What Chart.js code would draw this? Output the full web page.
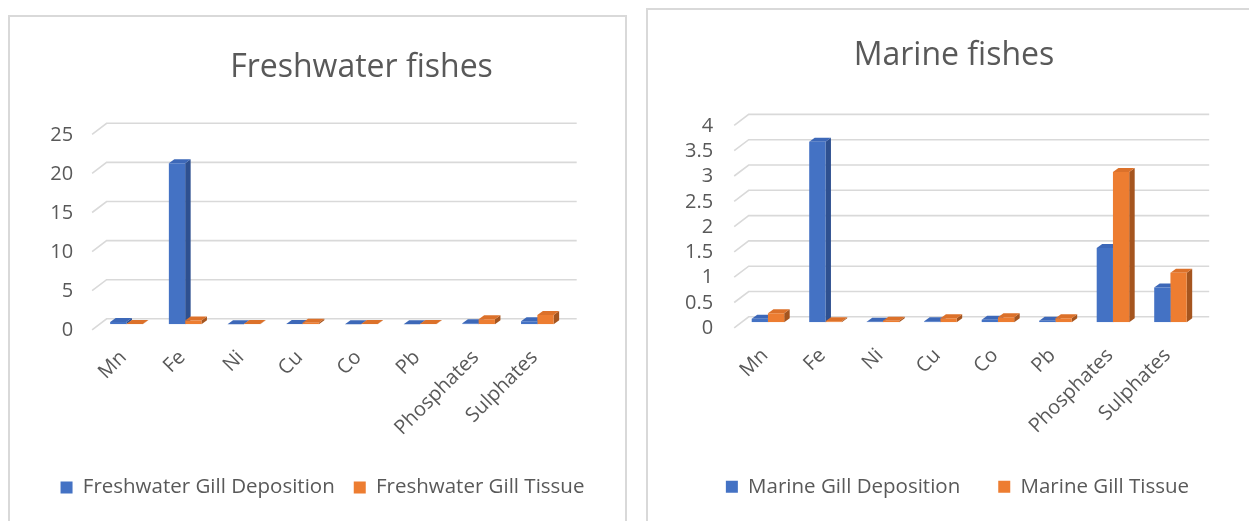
<!DOCTYPE html>
<html>
<head>
<meta charset="utf-8">
<script src="https://cdn.jsdelivr.net/npm/chart.js@4.4.1/dist/chart.umd.min.js"></script>
<style>
  html, body { margin: 0; padding: 0; background: #fff; width: 1249px; height: 521px; overflow: hidden; position: relative; }
  .frame { position: absolute; border: 2px solid #d9d9d9; box-sizing: border-box; pointer-events: none; }
  canvas { position: absolute; }
</style>
</head>
<body>
<canvas id="fresh" width="617" height="520" style="left:9px;top:16px"></canvas>
<div class="frame" style="left:8px;top:15px;width:619px;height:540px"></div>
<canvas id="marine" width="617" height="530" style="left:647px;top:9px"></canvas>
<div class="frame" style="left:646px;top:8px;width:619px;height:540px"></div>
<script>
// Parameters measured per sample
const CATEGORIES = ['Mn', 'Fe', 'Ni', 'Cu', 'Co', 'Pb', 'Phosphates', 'Sulphates'];

const FRESH_DEPOSITION = [0.3, 20.6, 0.02, 0.05, 0.02, 0.02, 0.15, 0.4];
const FRESH_TISSUE     = [0.05, 0.5, 0.03, 0.2, 0.03, 0.03, 0.65, 1.2];
const FRESH_Y_TICKS    = [0, 5, 10, 15, 20, 25];

const MARINE_DEPOSITION = [0.07, 3.57, 0.01, 0.02, 0.05, 0.03, 1.47, 0.69];
const MARINE_TISSUE     = [0.18, 0.02, 0.03, 0.08, 0.1, 0.08, 2.97, 0.98];
const MARINE_Y_TICKS    = [0, 0.5, 1, 1.5, 2, 2.5, 3, 3.5, 4];

const FONT = "'Open Sans', 'Noto Sans', sans-serif";
const TEXT = '#595959';
Chart.defaults.font.family = FONT;
Chart.defaults.color = TEXT;

// front / top / side shades for the extruded columns
const FACES = [
  { front: '#4472C4', top: '#3D68B8', side: '#2E5090' },
  { front: '#ED7D31', top: '#DC712A', side: '#A5551F' }
];

// oblique depth of the columns and of the back wall
const DEPTH = { dx: 5.5, dy: -4 };
const WALL = { lift: -5.5, back: 9.5, front: -5, drop: 11, right: 10 };

// back-wall gridlines with the short floor diagonal at their left end
const wallGrid = {
  id: 'wallGrid',
  beforeDatasetsDraw(chart) {
    const { ctx, chartArea: a } = chart;
    const ys = chart.scales.y;
    ctx.save();
    ctx.strokeStyle = '#d9d9d9';
    ctx.lineWidth = 1.6;
    ys.ticks.forEach(t => {
      const wy = ys.getPixelForValue(t.value) + WALL.lift;
      ctx.beginPath();
      ctx.moveTo(a.left + WALL.front, wy + WALL.drop);
      ctx.lineTo(a.left + WALL.back, wy);
      ctx.lineTo(a.right + WALL.right, wy);
      ctx.stroke();
    });
    ctx.restore();
  }
};

// top and side faces of every column (the front face is the bar itself)
const columns3d = {
  id: 'columns3d',
  beforeDatasetsDraw(chart) {
    const { ctx } = chart;
    const metas = chart.data.datasets.map((d, i) => chart.getDatasetMeta(i));
    ctx.save();
    for (let i = 0; i < chart.data.labels.length; i++) {
      metas.forEach((meta, di) => {
        const bar = meta.data[i];
        if (!bar) return;
        const { x, y, base, width } = bar.getProps(['x', 'y', 'base', 'width'], true);
        const l = x - width / 2, r = x + width / 2;
        const c = FACES[di];
        // side
        ctx.fillStyle = c.side;
        ctx.beginPath();
        ctx.moveTo(r, y);
        ctx.lineTo(r + DEPTH.dx, y + DEPTH.dy);
        ctx.lineTo(r + DEPTH.dx, base + DEPTH.dy);
        ctx.lineTo(r, base);
        ctx.closePath();
        ctx.fill();
        // top
        ctx.fillStyle = c.top;
        ctx.beginPath();
        ctx.moveTo(l, y);
        ctx.lineTo(l + DEPTH.dx, y + DEPTH.dy);
        ctx.lineTo(r + DEPTH.dx, y + DEPTH.dy);
        ctx.lineTo(r, y);
        ctx.closePath();
        ctx.fill();
      });
    }
    ctx.restore();
  }
};

// category names, turned 45 degrees under the floor
const slantLabels = {
  id: 'slantLabels',
  afterDraw(chart, args, opts) {
    const { ctx, chartArea: a } = chart;
    const xs = chart.scales.x;
    ctx.save();
    ctx.fillStyle = TEXT;
    ctx.font = `${opts.size}px ${FONT}`;
    ctx.textAlign = 'right';
    ctx.textBaseline = 'middle';
    chart.data.labels.forEach((lab, i) => {
      ctx.save();
      ctx.translate(xs.getPixelForValue(i) + opts.dx, a.bottom + opts.dy);
      ctx.rotate(-Math.PI / 4);
      ctx.fillText(lab, 0, 0);
      ctx.restore();
    });
    ctx.restore();
  }
};

// chart heading
const heading = {
  id: 'heading',
  afterDraw(chart, args, opts) {
    const { ctx } = chart;
    ctx.save();
    ctx.fillStyle = TEXT;
    ctx.font = `${opts.size}px ${FONT}`;
    ctx.textAlign = 'center';
    ctx.textBaseline = 'alphabetic';
    ctx.fillText(opts.text, opts.x, opts.y);
    ctx.restore();
  }
};

function makeChart(id, cfg) {
  return new Chart(document.getElementById(id), {
    type: 'bar',
    data: {
      labels: CATEGORIES,
      datasets: cfg.series.map((s, i) => ({
        label: s.label,
        data: s.data,
        backgroundColor: FACES[i].front,
        borderWidth: 0,
        categoryPercentage: cfg.catPct,
        barPercentage: 1
      }))
    },
    options: {
      responsive: false,
      animation: false,
      events: [],
      layout: { padding: cfg.padding },
      scales: {
        x: {
          grid: { display: false, drawTicks: false },
          border: { display: false },
          ticks: { display: false },
          afterFit: s => { s.height = cfg.xHeight; }
        },
        y: {
          min: 0,
          max: cfg.yTicks[cfg.yTicks.length - 1],
          afterBuildTicks: s => { s.ticks = cfg.yTicks.map(v => ({ value: v })); },
          grid: { display: false, drawTicks: false },
          border: { display: false },
          ticks: {
            autoSkip: false,
            padding: cfg.tickPad,
            labelOffset: 6,
            color: TEXT,
            font: { size: 20 },
            callback: v => String(v)
          },
          afterFit: s => { s.width = cfg.yWidth; }
        },
        side: {
          position: 'right',
          grid: { display: false, drawTicks: false },
          border: { display: false },
          ticks: { display: false },
          afterFit: s => { s.width = cfg.rightGap; }
        }
      },
      plugins: {
        legend: {
          position: 'bottom',
          labels: { boxWidth: 12, boxHeight: 12, padding: cfg.legendPad, color: TEXT, font: { size: 20.5 } }
        },
        tooltip: { enabled: false },
        heading: { text: cfg.title, x: cfg.titleX, y: cfg.titleY, size: 32 },
        slantLabels: { size: 20, dx: -3, dy: 30 }
      }
    },
    plugins: [wallGrid, columns3d, slantLabels, heading]
  });
}

makeChart('fresh', {
  title: 'Freshwater fishes', titleX: 352.5, titleY: 61.3,
  series: [
    { label: 'Freshwater Gill Deposition', data: FRESH_DEPOSITION },
    { label: 'Freshwater Gill Tissue', data: FRESH_TISSUE }
  ],
  yTicks: FRESH_Y_TICKS,
  catPct: 0.555,
  padding: { left: 10, right: 0, top: 112.8, bottom: 28.25 },
  yWidth: 78.1, rightGap: 59.3, xHeight: 133.95, tickPad: 24, legendPad: 19
});

makeChart('marine', {
  title: 'Marine fishes', titleX: 307, titleY: 56,
  series: [
    { label: 'Marine Gill Deposition', data: MARINE_DEPOSITION },
    { label: 'Marine Gill Tissue', data: MARINE_TISSUE }
  ],
  yTicks: MARINE_Y_TICKS,
  catPct: 0.565,
  padding: { left: 4, right: 0, top: 110.9, bottom: 32.05 },
  yWidth: 88.2, rightGap: 64.8, xHeight: 116.15, tickPad: 26, legendPad: 38
});
</script>
</body>
</html>
